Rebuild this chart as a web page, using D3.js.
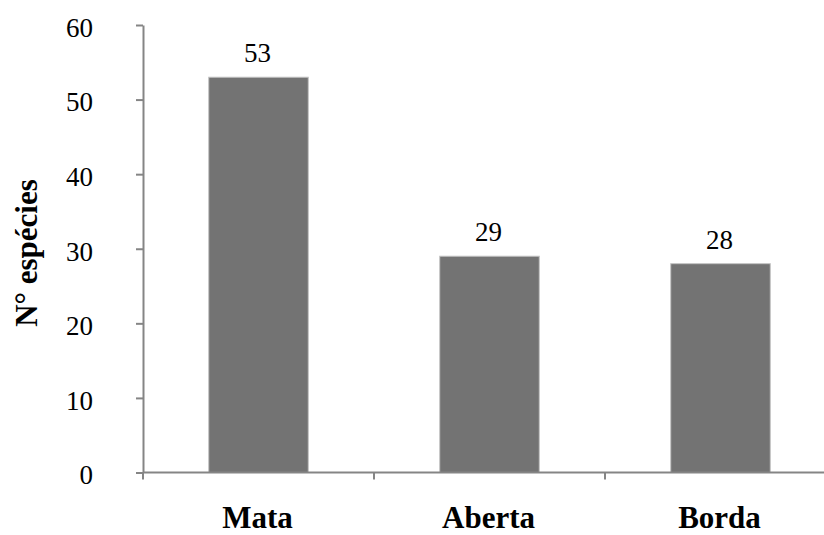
<!DOCTYPE html>
<html>
<head>
<meta charset="utf-8">
<script src="https://cdn.jsdelivr.net/npm/d3@7/dist/d3.min.js"></script>
<style>
  html, body { margin: 0; padding: 0; background: #fff; }
  svg { display: block; font-family: "Liberation Serif", "Times New Roman", serif; }
</style>
</head>
<body>
<svg id="chart" width="824" height="535"></svg>
<script>
// Number of species per habitat
const categories = ["Mata", "Aberta", "Borda"];
const speciesCount = [53, 29, 28];
const yTicks = [0, 10, 20, 30, 40, 50, 60];

const svg = d3.select("#chart");
const plotLeft = 143, plotRight = 836, plotTop = 25, plotBottom = 472.5;
const serif = "Liberation Serif, Times New Roman, serif";

const x = d3.scaleBand()
  .domain(categories)
  .range([plotLeft, plotRight])
  .paddingInner(0.569)
  .paddingOuter(0.2845);

const y = d3.scaleLinear().domain([0, 60]).range([plotBottom, plotTop]);

const axisColor = "#858585";

// Y axis
const yAxis = svg.append("g")
  .attr("transform", `translate(${plotLeft},0)`)
  .call(d3.axisLeft(y).tickValues(yTicks).tickSize(7).tickPadding(43).tickSizeOuter(0));
yAxis.select(".domain").attr("stroke", axisColor).attr("stroke-width", 2);
yAxis.selectAll(".tick line").attr("stroke", axisColor).attr("stroke-width", 2);
yAxis.selectAll(".tick text")
  .attr("font-family", serif)
  .attr("font-size", 27)
  .attr("fill", "#000")
  .attr("dy", "0.42em");

// Bars
svg.append("g").selectAll("rect")
  .data(categories)
  .join("rect")
  .attr("x", d => x(d))
  .attr("width", x.bandwidth())
  .attr("y", (d, i) => y(speciesCount[i]))
  .attr("height", (d, i) => y(0) - y(speciesCount[i]))
  .attr("fill", "#737373")
  .attr("stroke", "#c4c4c4")
  .attr("stroke-width", 1);

// X axis line and category boundary ticks
const boundaries = d3.range(categories.length + 1).map(i => plotLeft + i * x.step());
svg.append("line")
  .attr("x1", plotLeft).attr("x2", 824)
  .attr("y1", y(0)).attr("y2", y(0))
  .attr("stroke", axisColor).attr("stroke-width", 2);
svg.append("g").selectAll("line")
  .data(boundaries)
  .join("line")
  .attr("x1", d => d).attr("x2", d => d)
  .attr("y1", y(0)).attr("y2", y(0) + 7)
  .attr("stroke", axisColor).attr("stroke-width", 2);

// Category labels
svg.append("g").selectAll("text")
  .data(categories)
  .join("text")
  .attr("x", d => x(d) + x.bandwidth() / 2 - 1)
  .attr("y", 528)
  .attr("text-anchor", "middle")
  .attr("font-family", serif)
  .attr("font-weight", "bold")
  .attr("font-size", 31)
  .text(d => d);

// Value labels
svg.append("g").selectAll("text")
  .data(categories)
  .join("text")
  .attr("x", d => x(d) + x.bandwidth() / 2 - 1)
  .attr("y", (d, i) => y(speciesCount[i]) - 15)
  .attr("text-anchor", "middle")
  .attr("font-family", serif)
  .attr("font-size", 27)
  .text((d, i) => speciesCount[i]);

// Y axis title
svg.append("text")
  .attr("transform", "translate(37,253) rotate(-90)")
  .attr("text-anchor", "middle")
  .attr("font-family", serif)
  .attr("font-weight", "bold")
  .attr("font-size", 31)
  .text("N° espécies");
</script>
</body>
</html>
